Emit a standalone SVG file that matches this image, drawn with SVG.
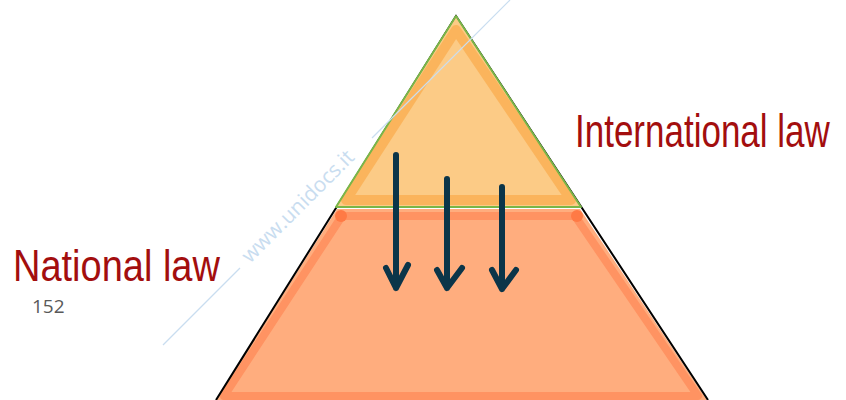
<svg xmlns="http://www.w3.org/2000/svg" width="846" height="400" viewBox="0 0 846 400">
<style>
.hand{font-family:"Liberation Sans",Arial,sans-serif;fill:#A30E0E;}
.arrow{fill:none;stroke:#0B3549;stroke-width:6;stroke-linecap:round;stroke-linejoin:round;}
.wm{font-family:"Open Sans","Liberation Sans",sans-serif;fill:#C9DDF0;}
</style>
<rect width="846" height="400" fill="#FFFFFF"/>
<g id="national">
  <polygon points="337,209 580,209 707,400 216,400" fill="#FFAD7E"/>
  <polygon points="342,216 575,216 698,396 224,396" fill="none" stroke="#FF7A45" stroke-opacity="0.5" stroke-width="8" stroke-linejoin="round"/>
  <circle cx="341" cy="216" r="6" fill="#FF7A45"/>
  <circle cx="577" cy="216" r="6" fill="#FF7A45"/>
</g>
<g id="outline">
  <polyline points="216,400 456,16 708,400" fill="none" stroke="#000000" stroke-width="2"/>
</g>
<g id="international">
  <polygon points="456,17 336,207 581,207" fill="#FCCB86"/>
  <polygon points="456,30 346,200 571,200" fill="none" stroke="#F9A33A" stroke-opacity="0.55" stroke-width="10" stroke-linejoin="round"/>
  <polygon points="456,16 336,207 581,207" fill="none" stroke="#7AB648" stroke-width="2" stroke-linejoin="round"/>
</g>
<g id="watermark">
  <line x1="163" y1="345" x2="240" y2="268" stroke="#C9DDF0" stroke-width="1.2"/>
  <line x1="372" y1="138" x2="510" y2="0" stroke="#C9DDF0" stroke-width="1.2"/>
  <text class="wm" x="0" y="0" font-size="21" transform="translate(250,264) rotate(-45)">www.unidocs.it</text>
</g>
<g id="connectors">
  <path class="arrow" d="M396,155 L396,288 M386,268 L396,288 L408,265"/>
  <path class="arrow" d="M447,179 L447,288 M437,270 L447,288 L462,268"/>
  <path class="arrow" d="M502,187 L502,289 M492,270 L502,289 L516,270"/>
</g>
<g id="labels">
  <text class="hand" x="0" y="0" font-size="35" transform="translate(575,147) scale(1,1.3)">International law</text>
  <text class="hand" x="0" y="0" font-size="38" transform="translate(13,281) scale(1,1.15)">National law</text>
  <text x="32" y="313" font-family="'Open Sans','Liberation Sans',sans-serif" font-size="19" fill="#595959">152</text>
</g>
</svg>
